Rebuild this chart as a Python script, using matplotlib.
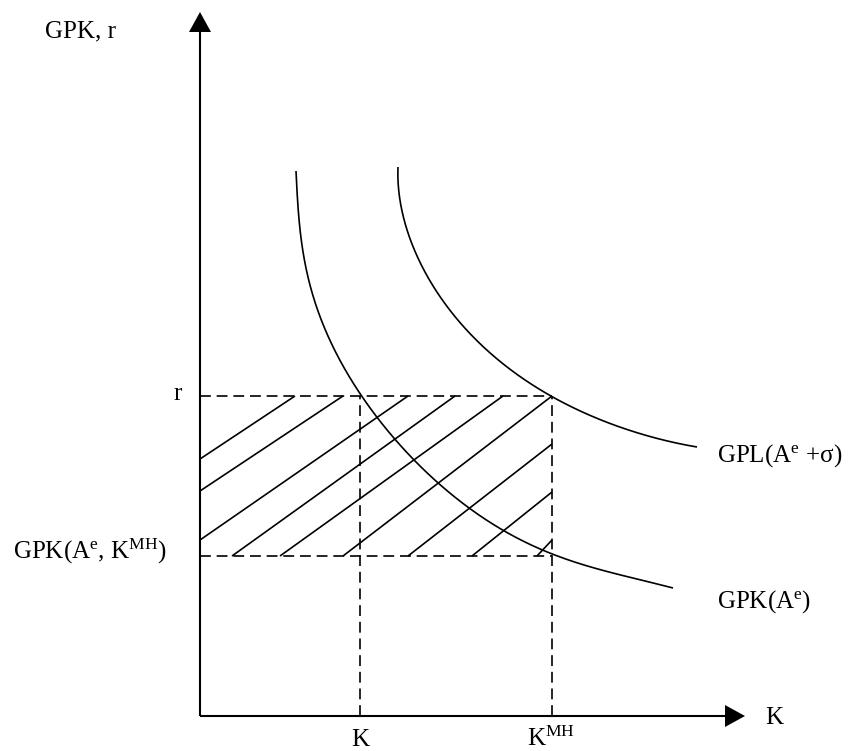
import numpy as np
from math import comb
import matplotlib
matplotlib.use("Agg")
import matplotlib.pyplot as plt
from matplotlib.patches import Polygon

plt.rcParams['font.family'] = ['Liberation Serif', 'DejaVu Serif']
plt.rcParams['mathtext.fontset'] = 'custom'
plt.rcParams['mathtext.rm'] = 'Liberation Serif'
plt.rcParams['mathtext.it'] = 'Liberation Serif:italic'

# ---- data ----
K_level = 16.0
KMH_level = 35.2
r_level = 32.0
gpk_level = 16.0

gpk_x = [9.6, 9.7, 9.9, 10.3, 10.8, 11.5, 12.3, 13.3, 14.7, 16.2, 19.6, 23.8, 26.9, 30.3, 35.2, 40.0, 47.3]
gpk_y = [54.5, 52.1, 49.1, 46.6, 44.1, 41.6, 39.1, 36.6, 34.3, 32.1, 27.6, 23.3, 20.8, 18.5, 16.3, 14.6, 12.8]

gpl_x = [19.8, 19.9, 20.2, 20.8, 21.5, 22.7, 24.2, 27.3, 30.7, 35.2, 40.7, 45.7, 49.7]
gpl_y = [54.9, 52.6, 50.3, 48.2, 46.6, 44.1, 41.6, 37.9, 34.9, 32.0, 29.3, 27.8, 26.9]

hatch_x0 = [0.0, 0.0, 0.0, 3.2, 8.0, 14.3, 20.8, 27.2, 33.7]
hatch_y0 = [25.7, 22.5, 17.6, 16.0, 16.0, 16.0, 16.0, 16.0, 16.0]
hatch_x1 = [9.5, 14.3, 20.8, 25.5, 30.3, 35.2, 35.2, 35.2, 35.2]
hatch_y1 = [32.0, 32.0, 32.0, 32.0, 32.0, 32.0, 27.2, 22.4, 17.6]

x_axis_end = 54.5
y_axis_end = 70.4

# ---- figure ----
fig = plt.figure(figsize=(8.6, 7.51), dpi=100)
ax = fig.add_axes([0, 0, 1, 1])
ax.set_xlim(-20, 66)
ax.set_ylim(-3.5, 71.6)
ax.axis('off')


def smooth_through(xs, ys, deg=5, iters=80, n_out=400):
    """Least-squares Bezier (ends fixed) through the read points, returned densely."""
    P = np.column_stack([xs, ys]).astype(float)
    d = np.r_[0, np.cumsum(np.hypot(*np.diff(P, axis=0).T))]
    t = d / d[-1]
    k = np.arange(deg + 1)
    binom = np.array([comb(deg, i) for i in k], dtype=float)

    def basis(tt):
        tt = tt[:, None]
        return binom * tt ** k * (1 - tt) ** (deg - k)

    def dbasis(tt):
        tt = tt[:, None]
        km = np.arange(deg)
        bm = np.array([comb(deg - 1, i) for i in km], dtype=float)
        return bm * tt ** km * (1 - tt) ** (deg - 1 - km)

    ctrl = None
    for _ in range(iters):
        B = basis(t)
        rhs = P - np.outer(B[:, 0], P[0]) - np.outer(B[:, -1], P[-1])
        C, *_ = np.linalg.lstsq(B[:, 1:-1], rhs, rcond=None)
        ctrl = np.vstack([P[0], C, P[-1]])
        Q = B @ ctrl
        D1 = deg * (dbasis(t) @ np.diff(ctrl, axis=0))
        diff = Q - P
        num = np.sum(diff * D1, axis=1)
        den = np.sum(D1 * D1, axis=1)
        den[den == 0] = 1
        t = np.clip(t - num / den, 0, 1)
        t[0], t[-1] = 0, 1
        t = np.maximum.accumulate(t)
    tt = np.linspace(0, 1, n_out)
    out = basis(tt) @ ctrl
    return out[:, 0], out[:, 1]


lw_curve = 1.2
for xs, ys in [(gpk_x, gpk_y), (gpl_x, gpl_y)]:
    sx, sy = smooth_through(xs, ys)
    ax.plot(sx, sy, color='black', lw=lw_curve, solid_capstyle='butt')

# axes with arrows
ax_lw = 1.5
ah_len = 2.0
ah_half = 1.1
ax.plot([0, 0], [0, y_axis_end - ah_len], color='black', lw=ax_lw, solid_capstyle='butt')
ax.plot([0, x_axis_end - ah_len], [0, 0], color='black', lw=ax_lw, solid_capstyle='butt')
ax.add_patch(Polygon([[-ah_half, y_axis_end - ah_len], [ah_half, y_axis_end - ah_len], [0, y_axis_end]],
                     closed=True, color='black', lw=0))
ax.add_patch(Polygon([[x_axis_end - ah_len, -ah_half], [x_axis_end - ah_len, ah_half], [x_axis_end, 0]],
                     closed=True, color='black', lw=0))

# dashed guide lines
dash = (0, (6.5, 3.5))
dlw = 1.2
ax.plot([0, KMH_level], [r_level, r_level], color='black', lw=dlw, linestyle=dash)
ax.plot([0, KMH_level], [gpk_level, gpk_level], color='black', lw=dlw, linestyle=dash)
ax.plot([K_level, K_level], [0, r_level], color='black', lw=dlw, linestyle=dash)
ax.plot([KMH_level, KMH_level], [0, r_level], color='black', lw=dlw, linestyle=dash)

# hatch
for x0, y0, x1, y1 in zip(hatch_x0, hatch_y0, hatch_x1, hatch_y1):
    ax.plot([x0, x1], [y0, y1], color='black', lw=1.2, solid_capstyle='butt')

fs = 18
ax.text(-15.5, 67.9, 'GPK, r', fontsize=fs, ha='left', va='baseline')
ax.text(-1.8, 31.6, 'r', fontsize=fs, ha='right', va='baseline')
ax.text(-18.7, 15.7, r'GPK(A$^{\rm e}$, K$^{\rm MH}$)', fontsize=fs, ha='left', va='baseline')
ax.text(51.7, 25.4, r'GPL(A$^{\rm e}$ +σ)', fontsize=fs, ha='left', va='baseline')
ax.text(51.7, 10.8, r'GPK(A$^{\rm e}$)', fontsize=fs, ha='left', va='baseline')
ax.text(56.5, -0.8, 'K', fontsize=fs, ha='left', va='baseline')
ax.text(K_level, -3.0, 'K', fontsize=fs, ha='center', va='baseline')
ax.text(32.7, -3.0, r'K$^{\rm MH}$', fontsize=fs, ha='left', va='baseline')

fig.savefig('out.png', dpi=100, facecolor='white')
